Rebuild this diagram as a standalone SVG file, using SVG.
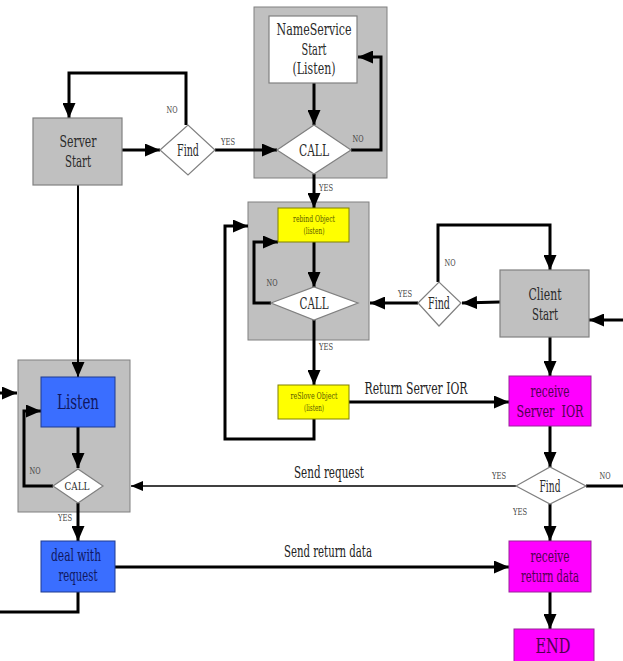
<svg xmlns="http://www.w3.org/2000/svg" width="623" height="661" viewBox="0 0 623 661">
<defs>
<marker id="ah" markerUnits="userSpaceOnUse" markerWidth="15" markerHeight="13" refX="15" refY="6.5" orient="auto" viewBox="0 0 15 13"><path d="M0,0 L15,6.5 L0,13 z" fill="#000"/></marker>
<marker id="ahs" markerUnits="userSpaceOnUse" markerWidth="12" markerHeight="10" refX="12" refY="5" orient="auto" viewBox="0 0 12 10"><path d="M0,0 L12,5 L0,10 z" fill="#000"/></marker>
</defs>
<style>
text{font-family:"DejaVu Serif Condensed","DejaVu Serif",serif;text-anchor:middle}
.grp{fill:#c0c0c0;stroke:#808080;stroke-width:1}
.gbox{fill:#c0c0c0;stroke:#808080;stroke-width:1.2}
.wbox{fill:#fff;stroke:#808080;stroke-width:1.2}
.dia{fill:#fff;stroke:#808080;stroke-width:1.2}
.ybox{fill:#ffff00;stroke:#808000;stroke-width:1}
.bbox{fill:#3a6eff;stroke:#1f3b8f;stroke-width:1}
.mbox{fill:#ff00ff;stroke:#992299;stroke-width:1}
.c{fill:none;stroke:#000;stroke-width:3}
.cm{fill:none;stroke:#000;stroke-width:2}
.ct{fill:none;stroke:#000;stroke-width:1.5}
.t{font-size:16.5px;fill:#2a2a2a}
.tl{font-size:10px;fill:#444}
.ty{font-size:9.5px;fill:#5a5a00}
.tb{fill:#101860}
.tm{fill:#500050}
.lab{font-size:16px;fill:#222}
</style>
<g id="groups">
<rect class="grp" x="254" y="7" width="133" height="171"/>
<rect class="grp" x="248" y="202" width="121" height="138"/>
<rect class="grp" x="18" y="360" width="112" height="152"/>
</g>
<g id="connectors">
<path class="c" d="M122,150 L160,150" marker-end="url(#ah)"/>
<path class="c" d="M186,125 L186,73 L69,73 L69,118" marker-end="url(#ah)"/>
<path class="c" d="M215,150 L277,150" marker-end="url(#ah)"/>
<path class="c" d="M314,83 L314,125" marker-end="url(#ah)"/>
<path class="c" d="M351,150 L381,150 L381,57 L358,57" marker-end="url(#ah)"/>
<path class="c" d="M314,174 L314,208" marker-end="url(#ah)"/>
<path class="c" d="M314,242 L314,287" marker-end="url(#ah)"/>
<path class="c" d="M271,303 L254,303 L254,242 L278,242" marker-end="url(#ah)"/>
<path class="c" d="M314,320 L314,385" marker-end="url(#ah)"/>
<path class="c" d="M314,419 L314,439 L225,439 L225,226 L248,226" marker-end="url(#ah)"/>
<path class="c" d="M349,402 L509,402" marker-end="url(#ah)"/>
<path class="c" d="M500,302 L462,303" marker-end="url(#ah)"/>
<path class="c" d="M418,303 L370,303" marker-end="url(#ah)"/>
<path class="c" d="M438,282 L438,225 L550,225 L550,270" marker-end="url(#ah)"/>
<path class="c" d="M623,320 L589,320" marker-end="url(#ah)"/>
<path class="c" d="M550,337 L550,376" marker-end="url(#ah)"/>
<path class="c" d="M550,426 L550,467" marker-end="url(#ah)"/>
<path class="c" d="M586,486 L623,486"/>
<path class="ct" d="M516,486 L131,486" marker-end="url(#ahs)"/>
<path class="c" d="M550,504 L550,541" marker-end="url(#ah)"/>
<path class="c" d="M550,592 L550,629" marker-end="url(#ah)"/>
<path class="cm" d="M78,185 L78,377" marker-end="url(#ah)"/>
<path class="c" d="M0,393 L17,393" marker-end="url(#ah)"/>
<path class="c" d="M78,427 L78,468" marker-end="url(#ah)"/>
<path class="c" d="M53,486 L24,486 L24,411 L41,411" marker-end="url(#ah)"/>
<path class="c" d="M78,503 L78,541" marker-end="url(#ah)"/>
<path class="c" d="M78,592 L78,612 L0,612"/>
<path class="c" d="M115,567 L509,567" marker-end="url(#ah)"/>
</g>
<g id="labels">
<text class="tl" x="172" y="113" textLength="11" lengthAdjust="spacingAndGlyphs">NO</text>
<text class="tl" x="228" y="145" textLength="14" lengthAdjust="spacingAndGlyphs">YES</text>
<text class="tl" x="358" y="142" textLength="11" lengthAdjust="spacingAndGlyphs">NO</text>
<text class="tl" x="326" y="191" textLength="14" lengthAdjust="spacingAndGlyphs">YES</text>
<text class="tl" x="272" y="286" textLength="11" lengthAdjust="spacingAndGlyphs">NO</text>
<text class="tl" x="405" y="297" textLength="14" lengthAdjust="spacingAndGlyphs">YES</text>
<text class="tl" x="450" y="266" textLength="11" lengthAdjust="spacingAndGlyphs">NO</text>
<text class="tl" x="326" y="350" textLength="14" lengthAdjust="spacingAndGlyphs">YES</text>
<text class="lab" x="416" y="394" textLength="103" lengthAdjust="spacingAndGlyphs">Return Server IOR</text>
<text class="lab" x="329" y="478" textLength="70" lengthAdjust="spacingAndGlyphs">Send request</text>
<text class="tl" x="499" y="479" textLength="14" lengthAdjust="spacingAndGlyphs">YES</text>
<text class="tl" x="605" y="479" textLength="11" lengthAdjust="spacingAndGlyphs">NO</text>
<text class="tl" x="520" y="515" textLength="14" lengthAdjust="spacingAndGlyphs">YES</text>
<text class="lab" x="328" y="557" textLength="88" lengthAdjust="spacingAndGlyphs">Send return data</text>
<text class="tl" x="35" y="474" textLength="11" lengthAdjust="spacingAndGlyphs">NO</text>
<text class="tl" x="65" y="521" textLength="14" lengthAdjust="spacingAndGlyphs">YES</text>
</g>
<g id="server-start"><rect class="gbox" x="33" y="118" width="89" height="67"/><text class="t" x="78" y="147" textLength="37" lengthAdjust="spacingAndGlyphs">Server</text><text class="t" x="78" y="167" textLength="26" lengthAdjust="spacingAndGlyphs">Start</text></g>
<g id="find1"><polygon class="dia" points="160,150 188,125 215,150 188,175"/><text class="t" x="188" y="156" textLength="22" lengthAdjust="spacingAndGlyphs">Find</text></g>
<g id="nameservice"><rect class="wbox" x="269" y="16" width="88" height="67"/><text class="t" x="314" y="35" textLength="75" lengthAdjust="spacingAndGlyphs">NameService</text><text class="t" x="314" y="55" textLength="25" lengthAdjust="spacingAndGlyphs">Start</text><text class="t" x="314" y="74" textLength="43" lengthAdjust="spacingAndGlyphs">(Listen)</text></g>
<g id="call1"><polygon class="dia" points="277,150 314,125 351,150 314,174"/><text class="t" x="314" y="156" textLength="30" lengthAdjust="spacingAndGlyphs">CALL</text></g>
<g id="rebind"><rect class="ybox" x="278" y="208" width="71" height="34"/><text class="ty" x="314" y="222" textLength="42" lengthAdjust="spacingAndGlyphs">rebind Object</text><text class="ty" x="314" y="234" textLength="21" lengthAdjust="spacingAndGlyphs">(listen)</text></g>
<g id="call2"><polygon class="dia" points="271,303 314,287 358,303 314,320"/><text class="t" x="314" y="309" textLength="29" lengthAdjust="spacingAndGlyphs">CALL</text></g>
<g id="reslove"><rect class="ybox" x="278" y="385" width="71" height="34"/><text class="ty" x="314" y="399" textLength="47" lengthAdjust="spacingAndGlyphs">reSlove Object</text><text class="ty" x="314" y="411" textLength="20" lengthAdjust="spacingAndGlyphs">(listen)</text></g>
<g id="find2"><polygon class="dia" points="418,303 439,282 461,303 439,326"/><text class="t" x="439" y="309" textLength="22" lengthAdjust="spacingAndGlyphs">Find</text></g>
<g id="client-start"><rect class="gbox" x="500" y="270" width="89" height="67"/><text class="t" x="545" y="300" textLength="33" lengthAdjust="spacingAndGlyphs">Client</text><text class="t" x="545" y="320" textLength="26" lengthAdjust="spacingAndGlyphs">Start</text></g>
<g id="receive-ior"><rect class="mbox" x="509" y="376" width="82" height="50"/><text class="t tm" x="550" y="397" textLength="39" lengthAdjust="spacingAndGlyphs">receive</text><text class="t tm" x="550" y="417" textLength="67" lengthAdjust="spacingAndGlyphs" xml:space="preserve">Server  IOR</text></g>
<g id="find3"><polygon class="dia" points="516,486 550,467 586,486 550,504"/><text class="t" x="550" y="492" textLength="21" lengthAdjust="spacingAndGlyphs">Find</text></g>
<g id="receive-data"><rect class="mbox" x="509" y="541" width="82" height="51"/><text class="t tm" x="550" y="562" textLength="39" lengthAdjust="spacingAndGlyphs">receive</text><text class="t tm" x="550" y="582" textLength="58" lengthAdjust="spacingAndGlyphs">return data</text></g>
<g id="end"><rect class="mbox" x="514" y="629" width="80" height="34"/><text class="tm" x="553" y="653" style="font-size:21px" textLength="35" lengthAdjust="spacingAndGlyphs">END</text></g>
<g id="listen"><rect class="bbox" x="41" y="377" width="74" height="50"/><text class="tb" x="78" y="409" style="font-size:21px" textLength="42" lengthAdjust="spacingAndGlyphs">Listen</text></g>
<g id="call3"><polygon class="dia" points="53,486 78,469 103,486 78,503"/><text class="t" x="77" y="490" style="font-size:11px" textLength="25" lengthAdjust="spacingAndGlyphs">CALL</text></g>
<g id="deal"><rect class="bbox" x="41" y="541" width="74" height="51"/><text class="t tb" x="76" y="561" textLength="50" lengthAdjust="spacingAndGlyphs">deal with</text><text class="t tb" x="78" y="581" textLength="39" lengthAdjust="spacingAndGlyphs">request</text></g>
</svg>
